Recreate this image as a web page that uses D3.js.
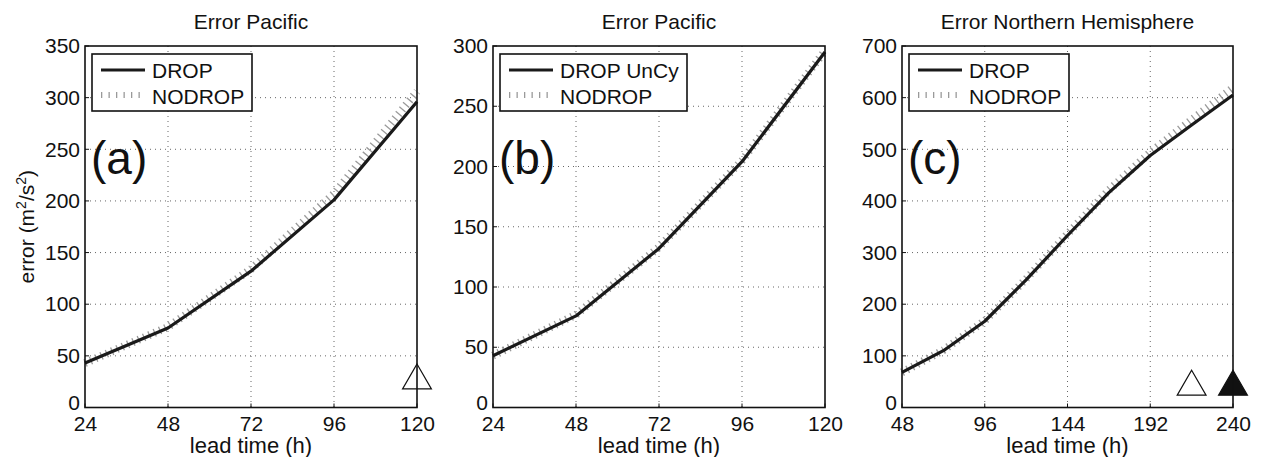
<!DOCTYPE html>
<html>
<head>
<meta charset="utf-8">
<script src="https://cdn.jsdelivr.net/npm/d3@7"></script>
<style>
  body { margin: 0; background: #fff; }
  svg { display: block; font-family: "Liberation Sans", Arial, Helvetica, sans-serif; }
</style>
</head>
<body>
<svg id="chart" width="1261" height="457"></svg>
<script>
// lead times (h)
const leadA = [24, 48, 72, 96, 120]
const leadB = [24, 48, 72, 96, 120]
const leadC = [48, 72, 96, 120, 144, 168, 192, 216, 240]

// errors (m2/s2)
const dropA = [43, 77, 132, 201, 296]
const nodropA = [43, 78, 134, 207, 306]
const dropB = [43, 76, 132, 204, 295]
const nodropB = [43, 77, 133, 205, 296]
const dropC = [68, 110, 167, 247, 333, 416, 488, 547, 605]
const nodropC = [68, 111, 168, 249, 336, 421, 494, 557, 619]

// ticks
const xTicksA = [24, 48, 72, 96, 120]
const xTicksB = [24, 48, 72, 96, 120]
const xTicksC = [48, 96, 144, 192, 240]
const yTicksA = [0, 50, 100, 150, 200, 250, 300, 350]
const yTicksB = [0, 50, 100, 150, 200, 250, 300]
const yTicksC = [0, 100, 200, 300, 400, 500, 600, 700]

// significance markers
const markersA = [{ x: 120, y: 26, filled: false }]
const markersC = [{ x: 216, y: 40, filled: false }, { x: 240, y: 40, filled: true }]

const panels = [
  { title: 'Error Pacific', tag: '(a)', left: 85, right: 417, lead: leadA, drop: dropA, nodrop: nodropA,
    xTicks: xTicksA, yTicks: yTicksA, legend: ['DROP', 'NODROP'], markers: markersA, ylabel: true },
  { title: 'Error Pacific', tag: '(b)', left: 493, right: 825, lead: leadB, drop: dropB, nodrop: nodropB,
    xTicks: xTicksB, yTicks: yTicksB, legend: ['DROP UnCy', 'NODROP'], markers: [] },
  { title: 'Error Northern Hemisphere', tag: '(c)', left: 902, right: 1233, lead: leadC, drop: dropC, nodrop: nodropC,
    xTicks: xTicksC, yTicks: yTicksC, legend: ['DROP', 'NODROP'], markers: markersC },
]

const plotTop = 46, plotBottom = 407.5
const svg = d3.select('#chart')

for (const p of panels) {
  const x = d3.scaleLinear().domain(d3.extent(p.xTicks)).range([p.left, p.right])
  const y = d3.scaleLinear().domain(d3.extent(p.yTicks)).range([plotBottom, plotTop])
  const g = svg.append('g')

  // grid
  g.selectAll('.gx').data(p.xTicks.slice(1, -1)).enter().append('line')
    .attr('x1', d => x(d)).attr('x2', d => x(d)).attr('y1', plotTop).attr('y2', plotBottom)
    .attr('stroke', '#666').attr('stroke-width', 1).attr('stroke-dasharray', '1,4')
  g.selectAll('.gy').data(p.yTicks.slice(1, -1)).enter().append('line')
    .attr('y1', d => y(d)).attr('y2', d => y(d)).attr('x1', p.left).attr('x2', p.right)
    .attr('stroke', '#666').attr('stroke-width', 1).attr('stroke-dasharray', '1,4')

  // axes
  const xAxis = g.append('g').attr('transform', `translate(0,${plotBottom})`)
    .call(d3.axisBottom(x).tickValues(p.xTicks).tickSize(0).tickPadding(9))
  xAxis.select('.domain').remove()
  xAxis.selectAll('text').attr('font-size', 21).attr('fill', '#111')
    .attr('font-family', '"Liberation Sans", Arial, sans-serif')

  const yAxis = g.append('g').attr('transform', `translate(${p.left},0)`)
    .call(d3.axisLeft(y).tickValues(p.yTicks).tickSize(0).tickPadding(5))
  yAxis.select('.domain').remove()
  yAxis.selectAll('text').attr('font-size', 21).attr('fill', '#111')
    .attr('font-family', '"Liberation Sans", Arial, sans-serif')
  // lift the "0" a touch so it clears the first x label
  yAxis.selectAll('.tick').filter(d => d === 0).select('text').attr('dy', '0.1em')

  // small inward ticks
  g.selectAll('.tx').data(p.xTicks).enter().append('line')
    .attr('x1', d => x(d)).attr('x2', d => x(d)).attr('y1', plotBottom).attr('y2', plotBottom - 4)
    .attr('stroke', '#111')
  g.selectAll('.ty').data(p.yTicks).enter().append('line')
    .attr('y1', d => y(d)).attr('y2', d => y(d)).attr('x1', p.left).attr('x2', p.left + 4)
    .attr('stroke', '#111')

  // lines
  const pts = (vals) => vals.map((v, i) => [p.lead[i], v])
  const line = d3.line().x(d => x(d[0])).y(d => y(d[1]))
  g.append('path').attr('d', line(pts(p.nodrop))).attr('fill', 'none')
    .attr('stroke', '#9a9a9a').attr('stroke-width', 8).attr('stroke-dasharray', '1.3,4.5')
  g.append('path').attr('d', line(pts(p.drop))).attr('fill', 'none')
    .attr('stroke', '#1a1a1a').attr('stroke-width', 3.2).attr('stroke-linejoin', 'round')

  // markers
  const tri = d3.symbol().type(d3.symbolTriangle).size(360)
  g.selectAll('.mk').data(p.markers).enter().append('path')
    .attr('d', tri)
    .attr('transform', d => `translate(${x(d.x)},${y(d.y)})`)
    .attr('fill', d => d.filled ? '#111' : '#fff')
    .attr('stroke', '#111').attr('stroke-width', 1.2)

  // box
  g.append('rect').attr('x', p.left).attr('y', plotTop)
    .attr('width', p.right - p.left).attr('height', plotBottom - plotTop)
    .attr('fill', 'none').attr('stroke', '#111').attr('stroke-width', 1.6)

  // title
  g.append('text').attr('x', (p.left + p.right) / 2).attr('y', 29)
    .attr('text-anchor', 'middle').attr('font-size', 21).attr('fill', '#111').text(p.title)

  // x label
  g.append('text').attr('x', (p.left + p.right) / 2).attr('y', 453)
    .attr('text-anchor', 'middle').attr('font-size', 22).attr('fill', '#111').text('lead time (h)')

  // legend
  const lw = p.legend[0].length > 5 ? 187 : 160
  const lg = g.append('g').attr('transform', `translate(${p.left + 7},54)`)
  lg.append('rect').attr('width', lw).attr('height', 57)
    .attr('fill', '#fff').attr('stroke', '#111').attr('stroke-width', 1.6)
  lg.append('line').attr('x1', 9).attr('x2', 53).attr('y1', 16).attr('y2', 16)
    .attr('stroke', '#1a1a1a').attr('stroke-width', 3.2)
  lg.append('line').attr('x1', 9).attr('x2', 53).attr('y1', 41).attr('y2', 41)
    .attr('stroke', '#9a9a9a').attr('stroke-width', 6).attr('stroke-dasharray', '1.3,6.2')
  lg.selectAll('.lt').data(p.legend).enter().append('text')
    .attr('x', 60).attr('y', (d, i) => 24 + i * 26)
    .attr('font-size', 21).attr('fill', '#111').text(d => d)

  // panel tag
  g.append('text').attr('x', p.left + 6).attr('y', 174)
    .attr('font-size', 46).attr('fill', '#111').text(p.tag)

  if (p.ylabel) {
    const t = g.append('text').attr('transform', `translate(34,${(plotTop + plotBottom) / 2}) rotate(-90)`)
      .attr('text-anchor', 'middle').attr('font-size', 21).attr('fill', '#111')
    t.append('tspan').text('error (m')
    t.append('tspan').attr('font-size', 14).attr('dy', -8).text('2')
    t.append('tspan').attr('dy', 8).text('/s')
    t.append('tspan').attr('font-size', 14).attr('dy', -8).text('2')
    t.append('tspan').attr('dy', 8).text(')')
  }
}
</script>
</body>
</html>
